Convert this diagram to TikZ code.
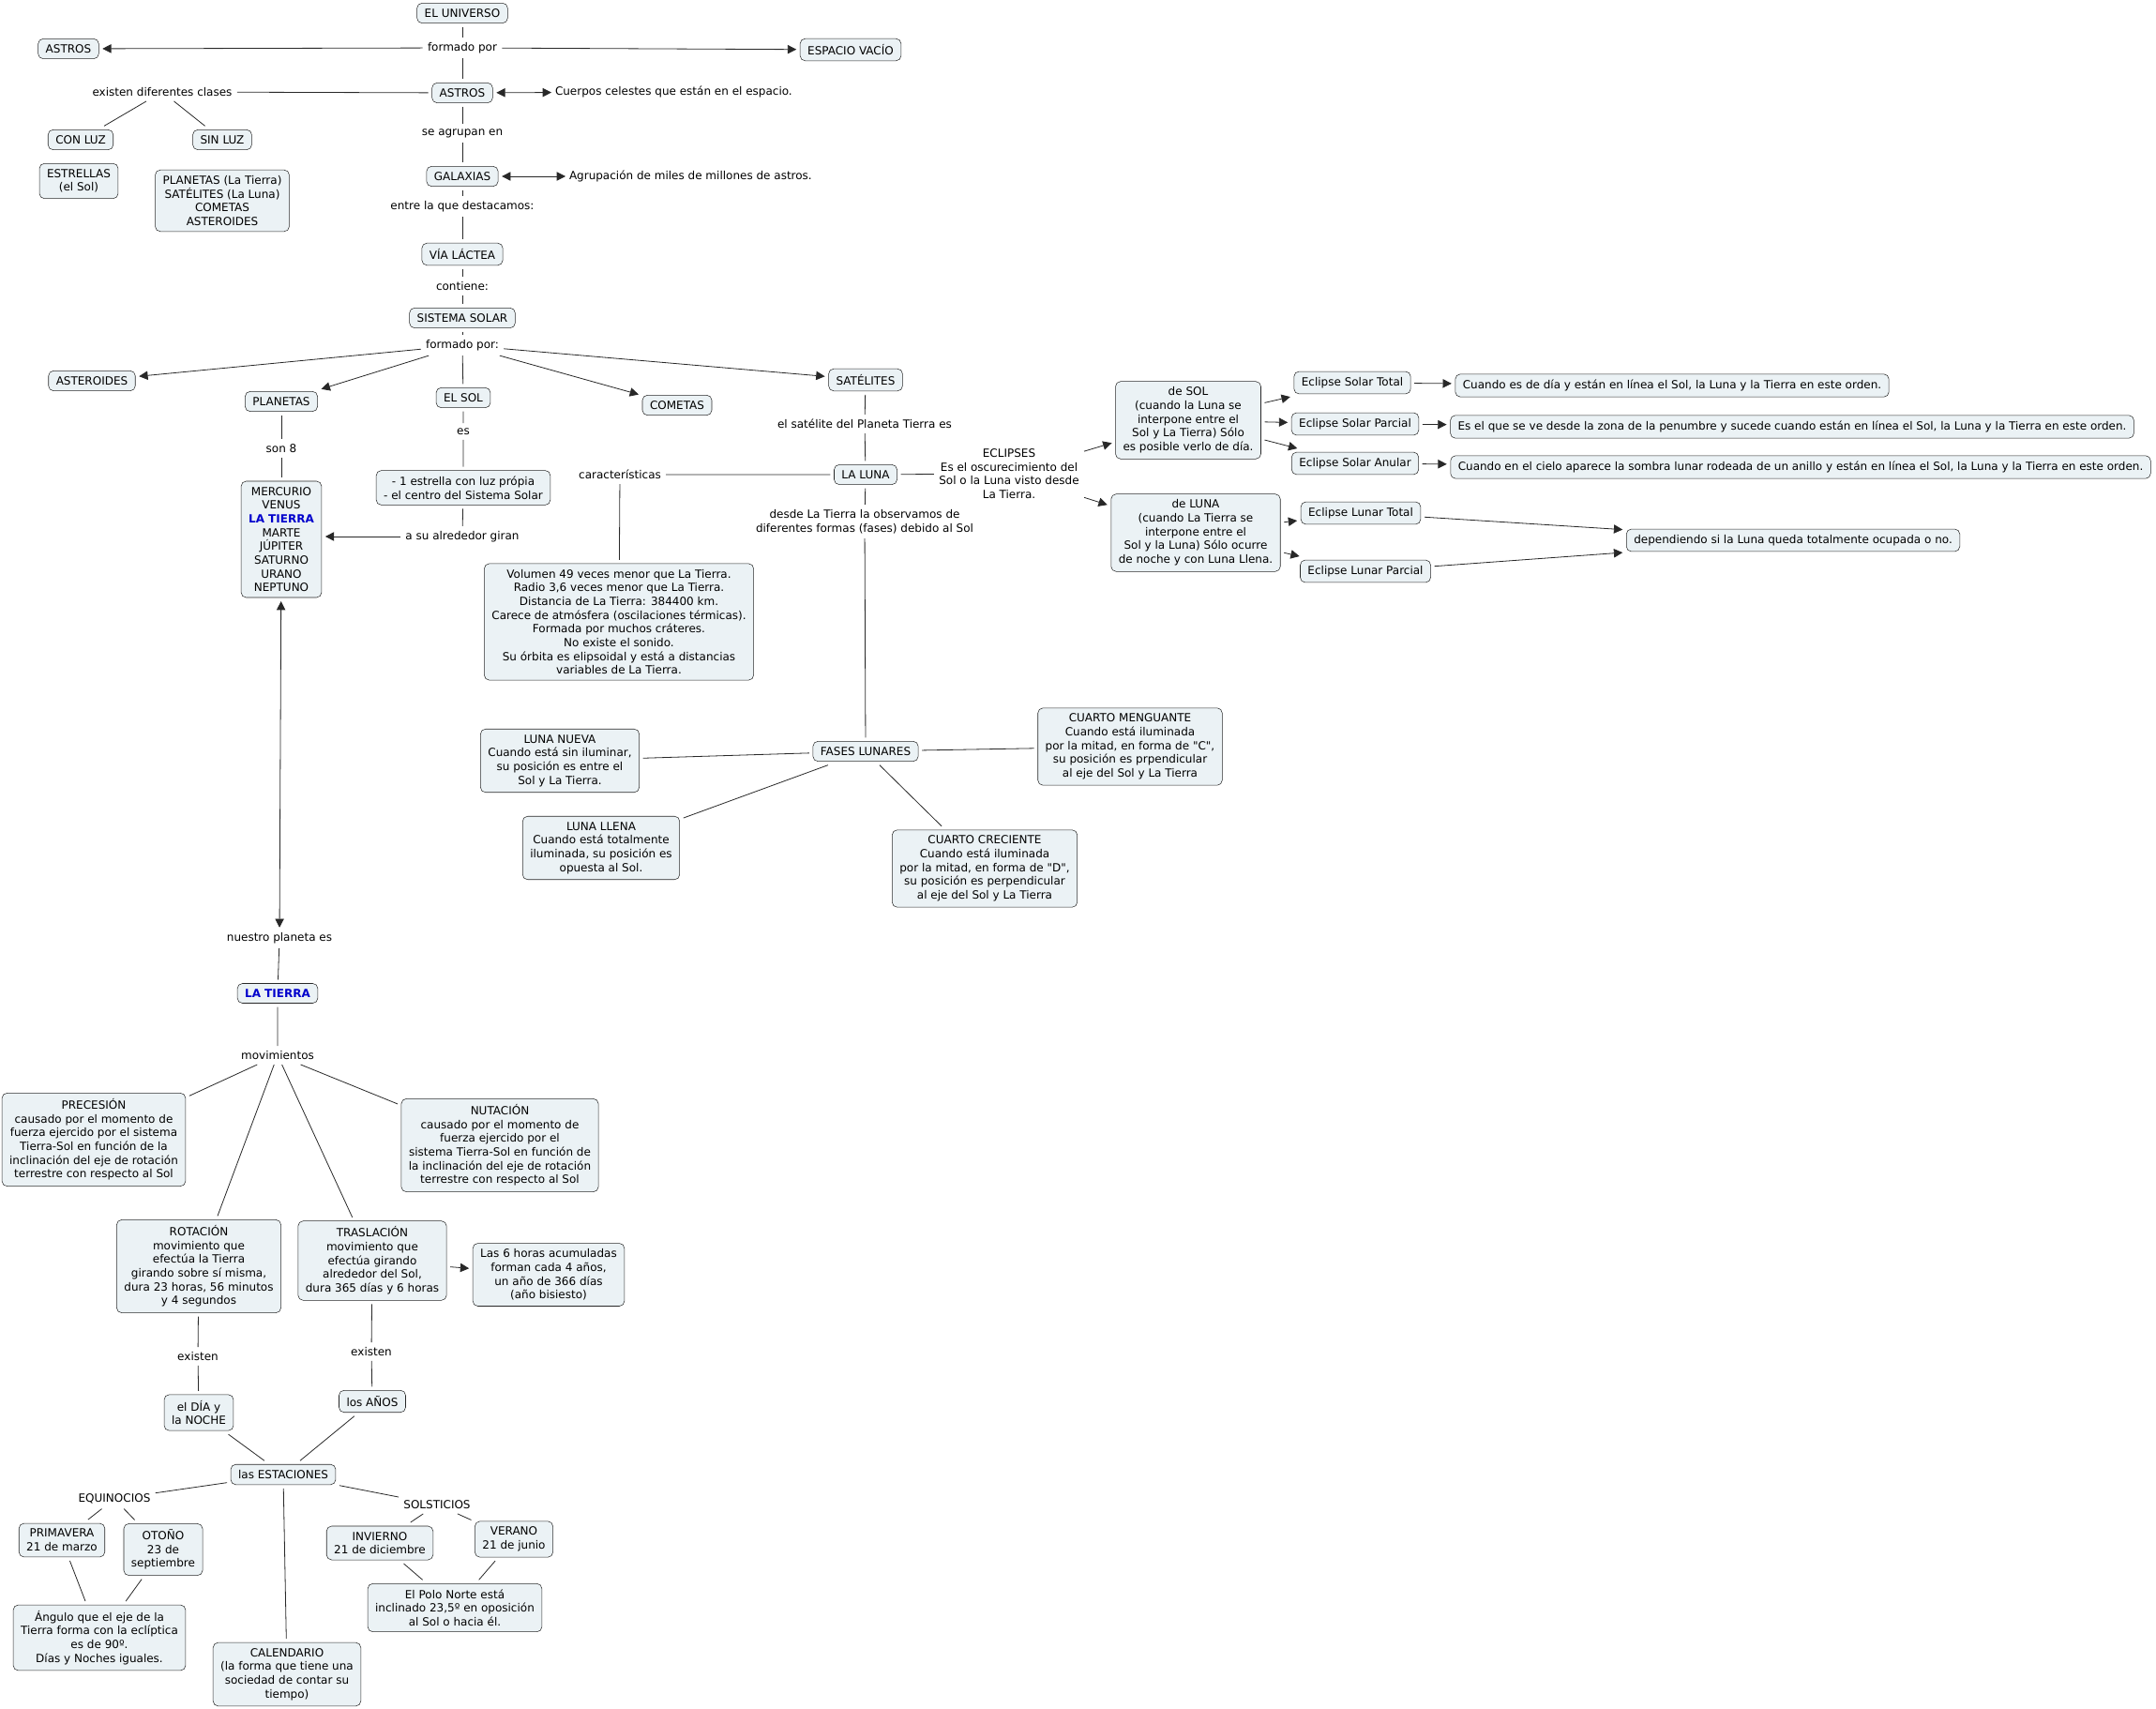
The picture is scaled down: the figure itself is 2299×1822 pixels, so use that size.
\documentclass[tikz,border=0pt]{standalone}
\usepackage{fontspec}
\setmainfont{DejaVu Sans}
\usetikzlibrary{arrows.meta}
\definecolor{unifill}{RGB}{235,242,245}
\definecolor{uniline}{RGB}{40,40,40}
\definecolor{uniblue}{RGB}{0,0,204}

\begin{document}
\begin{tikzpicture}[
  x=0.75pt, y=-0.75pt,
  font=\fontsize{9}{11}\selectfont,
  unibox/.style = {draw=uniline, fill=unifill, rounded corners=4pt, align=center,
    inner xsep=6pt, inner ysep=4.6pt, outer sep=3pt},
  unilbl/.style = {align=center, inner sep=1pt, outer sep=3pt},
  unitxt/.style = {inner sep=1pt, outer sep=2pt},
  unilink/.style = {draw=uniline, line width=0.6pt},
  uniarr/.style = {unilink, -{Triangle[length=7pt,width=7pt]}},
  unidbl/.style = {unilink, {Triangle[length=7pt,width=7pt]}-{Triangle[length=7pt,width=7pt]}}
]
  \useasboundingbox (0,0) rectangle (2299,1822);
  % universo y astros
  \node[unibox] (univ) at (493,14) {EL UNIVERSO};
  \node[unilbl] (formp) at (493,51) {formado por};
  \node[unibox] (astrosl) at (73,52) {ASTROS};
  \node[unibox] (vacio) at (907,53) {ESPACIO VACÍO};
  \node[unibox] (astros) at (493,99) {ASTROS};
  \node[unitxt, anchor=west] (cuerpos) at (588,98) {Cuerpos celestes que están en el espacio.};
  \node[unilbl] (clases) at (173,98) {existen diferentes clases};
  \node[unibox] (conluz) at (86,149) {CON LUZ};
  \node[unibox] (sinluz) at (237,149) {SIN LUZ};
  \node[unibox] (estrellas) at (84,193) {ESTRELLAS\\(el Sol)};
  \node[unibox] (planlist) at (237,214) {PLANETAS (La Tierra)\\SATÉLITES (La Luna)\\COMETAS\\ASTEROIDES};
  \node[unilbl] (agrup) at (493,142) {se agrupan en};
  \node[unibox] (galax) at (493,188) {GALAXIAS};
  \node[unitxt, anchor=west] (agrutxt) at (603,188) {Agrupación de miles de millones de astros.};
  \node[unilbl] (destac) at (493,220) {entre la que destacamos:};
  \node[unibox] (via) at (493,271) {VÍA LÁCTEA};
  \node[unilbl] (conti) at (493,305) {contiene:};
  \node[unibox] (sissol) at (493,339) {SISTEMA SOLAR};
  \node[unilbl] (formp2) at (493,368) {formado por:};
  \draw[unilink] (univ) -- (formp);
  \draw[uniarr] (formp) -- (astrosl);
  \draw[uniarr] (formp) -- (vacio);
  \draw[unilink] (formp) -- (astros);
  \draw[unidbl] (astros) -- (cuerpos);
  \draw[unilink] (astros) -- (clases);
  \draw[unilink] (clases) -- (conluz);
  \draw[unilink] (clases) -- (sinluz);
  \draw[unilink] (astros) -- (agrup) -- (galax);
  \draw[unidbl] (galax) -- (agrutxt);
  \draw[unilink] (galax) -- (destac) -- (via) -- (conti) -- (sissol) -- (formp2);
  % sistema solar
  \node[unibox] (aster) at (98,406) {ASTEROIDES};
  \node[unibox] (planet) at (300,428) {PLANETAS};
  \node[unibox] (elsol) at (494,424) {EL SOL};
  \node[unibox] (comet) at (722,432) {COMETAS};
  \node[unibox] (satel) at (923,405) {SATÉLITES};
  \node[unilbl] (son8) at (300,478) {son 8};
  \node[unilbl] (es) at (494,460) {es};
  \node[unibox] (merc) at (300,575) {MERCURIO\\VENUS\\{\bfseries\color{uniblue}LA TIERRA}\\MARTE\\JÚPITER\\SATURNO\\URANO\\NEPTUNO};
  \node[unibox] (estrella) at (494,520) {- 1 estrella con luz própia\\- el centro del Sistema Solar};
  \node[unilbl] (giran) at (493,572) {a su alrededor giran};
  \draw[uniarr] (formp2) -- (aster);
  \draw[uniarr] (formp2) -- (planet);
  \draw[unilink] (formp2) -- (elsol);
  \draw[uniarr] (formp2) -- (comet);
  \draw[uniarr] (formp2) -- (satel);
  \draw[unilink] (planet) -- (son8) -- (merc);
  \draw[unilink] (elsol) -- (es) -- (estrella) -- (giran);
  \draw[uniarr] (giran) -- (giran -| merc.east);
  % la luna
  \node[unilbl] (satpl) at (922,452) {el satélite del Planeta Tierra es};
  \node[unibox] (luna) at (923,506) {LA LUNA};
  \node[unilbl] (caract) at (661,506) {características};
  \node[unibox] (volum) at (660,663) {Volumen 49 veces menor que La Tierra.\\Radio 3,6 veces menor que La Tierra.\\Distancia de La Tierra: 384400 km.\\Carece de atmósfera (oscilaciones térmicas).\\Formada por muchos cráteres.\\No existe el sonido.\\Su órbita es elipsoidal y está a distancias\\variables de La Tierra.};
  \node[unilbl] (desde) at (922,556) {desde La Tierra la observamos de\\diferentes formas (fases) debido al Sol};
  \node[unilbl] (eclip) at (1076,505) {ECLIPSES\\Es el oscurecimiento del\\Sol o la Luna visto desde\\La Tierra.};
  \draw[unilink] (satel) -- (satpl) -- (luna);
  \draw[unilink] (luna) -- (caract) -- (volum);
  \draw[unilink] (luna) -- (desde);
  \draw[unilink] (luna) -- (eclip);
  % eclipses
  \node[unibox] (desol) at (1267,448) {de SOL\\(cuando la Luna se\\interpone entre el\\Sol y La Tierra) Sólo\\es posible verlo de día.};
  \node[unibox] (deluna) at (1275,568) {de LUNA\\(cuando La Tierra se\\interpone entre el\\Sol y la Luna) Sólo ocurre\\de noche y con Luna Llena.};
  \node[unibox] (soltot) at (1442,408) {Eclipse Solar Total};
  \node[unibox] (solpar) at (1445,452) {Eclipse Solar Parcial};
  \node[unibox] (solanu) at (1445,494) {Eclipse Solar Anular};
  \node[unibox] (soltottx) at (1783,411) {Cuando es de día y están en línea el Sol, la Luna y la Tierra en este orden.};
  \node[unibox] (solpartx) at (1911,455) {Es el que se ve desde la zona de la penumbre y sucede cuando están en línea el Sol, la Luna y la Tierra en este orden.};
  \node[unibox] (solanutx) at (1920,498) {Cuando en el cielo aparece la sombra lunar rodeada de un anillo y están en línea el Sol, la Luna y la Tierra en este orden.};
  \node[unibox] (luntot) at (1451,547) {Eclipse Lunar Total};
  \node[unibox] (lunpar) at (1456,609) {Eclipse Lunar Parcial};
  \node[unibox] (depend) at (1912,576) {dependiendo si la Luna queda totalmente ocupada o no.};
  \draw[uniarr] (eclip) -- (desol);
  \draw[uniarr] (eclip) -- (deluna);
  \draw[uniarr] (desol) -- (soltot);
  \draw[uniarr] (desol) -- (solpar);
  \draw[uniarr] (desol) -- (solanu);
  \draw[uniarr] (soltot) -- (soltottx);
  \draw[uniarr] (solpar) -- (solpartx);
  \draw[uniarr] (solanu) -- (solanutx);
  \draw[uniarr] (deluna) -- (luntot);
  \draw[uniarr] (deluna) -- (lunpar);
  \draw[uniarr] (luntot) -- (depend);
  \draw[uniarr] (lunpar) -- (depend);
  % fases
  \node[unibox] (fases) at (923,801) {FASES LUNARES};
  \node[unibox] (nueva) at (597,811) {LUNA NUEVA\\Cuando está sin iluminar,\\su posición es entre el\\Sol y La Tierra.};
  \node[unibox] (mengu) at (1205,796) {CUARTO MENGUANTE\\Cuando está iluminada\\por la mitad, en forma de \textquotedbl C\textquotedbl ,\\su posición es prpendicular\\al eje del Sol y La Tierra};
  \node[unibox] (llena) at (641,904) {LUNA LLENA\\Cuando está totalmente\\iluminada, su posición es\\opuesta al Sol.};
  \node[unibox] (creci) at (1050,926) {CUARTO CRECIENTE\\Cuando está iluminada\\por la mitad, en forma de \textquotedbl D\textquotedbl ,\\su posición es perpendicular\\al eje del Sol y La Tierra};
  \draw[unilink] (desde) -- (fases);
  \draw[unilink] (fases) -- (nueva);
  \draw[unilink] (fases) -- (mengu);
  \draw[unilink] (fases) -- (llena);
  \draw[unilink] (fases) -- (creci);
  % la tierra
  \node[unilbl] (nuestro) at (298,1000) {nuestro planeta es};
  \node[unibox] (tierra) at (296,1059) {\bfseries\color{uniblue}LA TIERRA};
  \node[unilbl] (movim) at (296,1125) {movimientos};
  \draw[unidbl] (merc) -- (nuestro);
  \draw[unilink] (nuestro) -- (tierra) -- (movim);
  \node[unibox] (prece) at (100,1215) {PRECESIÓN\\causado por el momento de\\fuerza ejercido por el sistema\\Tierra-Sol en función de la\\inclinación del eje de rotación\\terrestre con respecto al Sol};
  \node[unibox] (nuta) at (533,1221) {NUTACIÓN\\causado por el momento de\\fuerza ejercido por el\\sistema Tierra-Sol en función de\\la inclinación del eje de rotación\\terrestre con respecto al Sol};
  \node[unibox] (rota) at (212,1350) {ROTACIÓN\\movimiento que\\efectúa la Tierra\\girando sobre sí misma,\\dura 23 horas, 56 minutos\\y 4 segundos};
  \node[unibox] (trasl) at (397,1344) {TRASLACIÓN\\movimiento que\\efectúa girando\\alrededor del Sol,\\dura 365 días y 6 horas};
  \node[unibox] (bisi) at (585,1359) {Las 6 horas acumuladas\\forman cada 4 años,\\un año de 366 días\\(año bisiesto)};
  \draw[unilink] (movim) -- (prece);
  \draw[unilink] (movim) -- (nuta);
  \draw[unilink] (movim) -- (rota);
  \draw[unilink] (movim) -- (trasl);
  \draw[uniarr] (trasl) -- (bisi);
  % estaciones
  \node[unilbl] (exist1) at (211,1446) {existen};
  \node[unilbl] (exist2) at (396,1441) {existen};
  \node[unibox] (dia) at (212,1506) {el DÍA y\\la NOCHE};
  \node[unibox] (anos) at (397,1494) {los AÑOS};
  \node[unibox] (estac) at (302,1572) {las ESTACIONES};
  \node[unilbl] (equin) at (122,1598) {EQUINOCIOS};
  \node[unilbl] (solst) at (466,1604) {SOLSTICIOS};
  \node[unibox] (prima) at (66,1642) {PRIMAVERA\\21 de marzo};
  \node[unibox] (otono) at (174,1652) {OTOÑO\\23 de\\septiembre};
  \node[unibox] (invi) at (405,1645) {INVIERNO\\21 de diciembre};
  \node[unibox] (vera) at (548,1641) {VERANO\\21 de junio};
  \node[unibox] (angulo) at (106,1746) {Ángulo que el eje de la\\Tierra forma con la eclíptica\\es de 90º.\\Días y Noches iguales.};
  \node[unibox] (polo) at (485,1714) {El Polo Norte está\\inclinado 23,5º en oposición\\al Sol o hacia él.};
  \node[unibox] (calend) at (306,1785) {CALENDARIO\\(la forma que tiene una\\sociedad de contar su\\tiempo)};
  \draw[unilink] (rota) -- (exist1) -- (dia);
  \draw[unilink] (trasl) -- (exist2) -- (anos);
  \draw[unilink] (dia) -- (estac);
  \draw[unilink] (anos) -- (estac);
  \draw[unilink] (estac) -- (equin);
  \draw[unilink] (estac) -- (solst);
  \draw[unilink] (estac) -- (calend);
  \draw[unilink] (equin) -- (prima);
  \draw[unilink] (equin) -- (otono);
  \draw[unilink] (solst) -- (invi);
  \draw[unilink] (solst) -- (vera);
  \draw[unilink] (prima) -- (angulo);
  \draw[unilink] (otono) -- (angulo);
  \draw[unilink] (invi) -- (polo);
  \draw[unilink] (vera) -- (polo);
\end{tikzpicture}
\end{document}
